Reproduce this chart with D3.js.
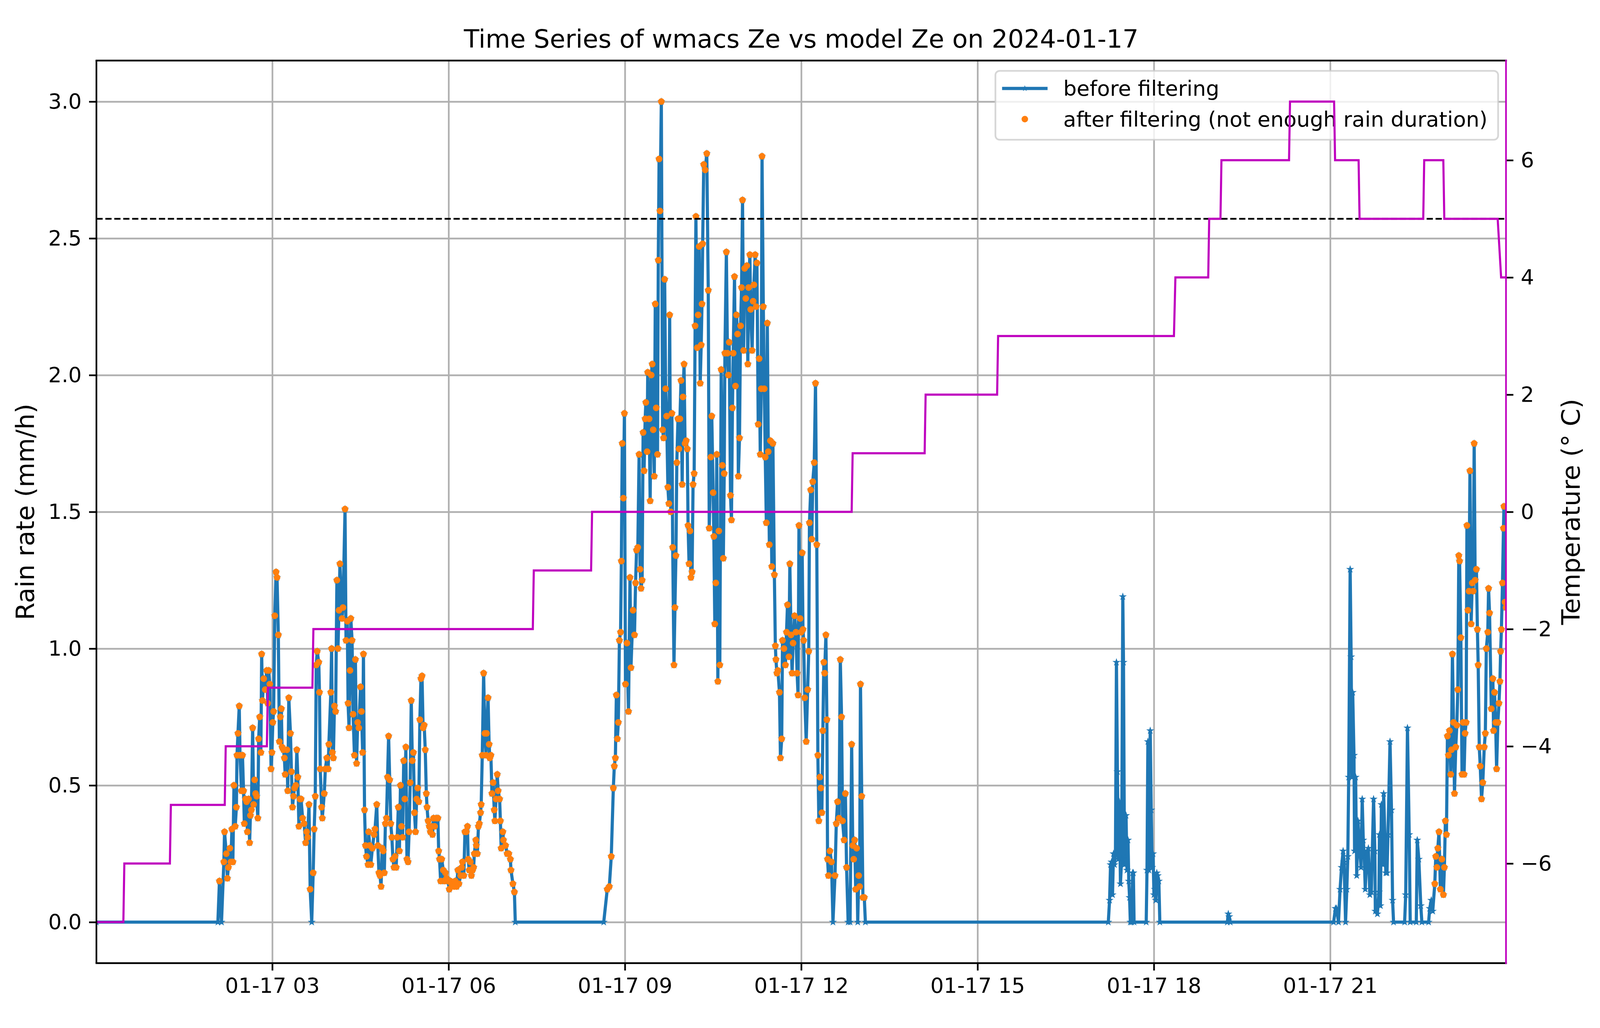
<!DOCTYPE html>
<html><head><meta charset="utf-8">
<script src="https://cdn.jsdelivr.net/npm/d3@7"></script>
<style>html,body{margin:0;padding:0;background:#fff;overflow:hidden;width:100%;height:100%;} svg{display:block;} text{font-family:"DejaVu Sans",sans-serif;}</style>
</head><body><svg id="chart"></svg>
<script>
// ---------------- data ----------------
const titleText = "Time Series of wmacs Ze vs model Ze on 2024-01-17";
const yLabelLeft = "Rain rate (mm/h)";
const yLabelRight = "Temperature (° C)";
const legendLabels = ["before filtering", "after filtering (not enough rain duration)"];
const xDomainMinutes = [0.5, 1439.5];
const xTickMinutes = [180, 360, 540, 720, 900, 1080, 1260];
const xTickLabels = ["01-17 03", "01-17 06", "01-17 09", "01-17 12", "01-17 15", "01-17 18", "01-17 21"];
const rainTicks = [0, 0.5, 1.0, 1.5, 2.0, 2.5, 3.0];
const tempTicks = [-6, -4, -2, 0, 2, 4, 6];
const tempThreshold = 5;

// rain rate before filtering: [minute of day, mm/h]
const rainBefore = [
[0.5,0],[124.5,0],[126.1,0.15],[128.2,0],[130.6,0.22],[131.3,0.33],[133.1,0.25],[134.2,0.16],[135.2,0.20],[136.7,0.27],[137.8,0.22],[138.8,0.34],[139.8,0.22],[140.9,0.50],[142.2,0.35],[143.4,0.42],[144.0,0.61],[145.0,0.69],[146.3,0.79],[147.1,0.61],[148.6,0.48],[149.6,0.61],[150.7,0.48],[151.5,0.36],[152.7,0.45],[153.8,0.44],[154.6,0.33],[155.8,0.45],[156.9,0.29],[157.7,0.39],[158.7,0.41],[160.0,0.71],[161.0,0.43],[162.0,0.52],[163.0,0.47],[164.1,0.46],[165.3,0.38],[166.1,0.67],[167.2,0.75],[168.4,0.62],[169.2,0.98],[170.0,0.81],[171.3,0.89],[172.8,0.85],[174.4,0.92],[175.4,0.80],[176.4,0.92],[177.5,0.87],[178.8,0.56],[179.7,0.62],[180.6,0.73],[181.4,0.77],[182.6,1.12],[183.9,1.28],[184.9,1.26],[186.2,1.05],[187.3,0.66],[188.3,0.75],[189.3,0.78],[190.0,0.64],[191.4,0.63],[192.4,0.60],[193.2,0.54],[195.0,0.63],[195.8,0.48],[196.9,0.82],[198.6,0.69],[199.6,0.55],[200.7,0.42],[201.7,0.46],[202.7,0.49],[204.1,0.50],[205.1,0.63],[206.1,0.53],[207.2,0.35],[208.2,0.45],[209.4,0.45],[211.0,0.38],[212.5,0.36],[214.1,0.29],[215.1,0.33],[216.1,0.31],[217.5,0.43],[218.7,0.12],[220.3,0],[221.8,0.18],[222.8,0.34],[223.9,0.46],[224.9,0.94],[225.9,0.99],[227.5,0.95],[228.2,0.84],[229.0,0.56],[230.4,0.42],[231.1,0.38],[233.1,0.47],[234.2,0.56],[235.7,0.60],[237.1,0.56],[237.8,0.65],[239.8,0.84],[240.6,1.00],[241.4,0.62],[242.4,0.60],[243.5,0.79],[244.7,0.77],[246.0,1.25],[247.1,1.00],[248.1,1.14],[249.1,1.31],[251.2,1.11],[252.2,1.15],[254.3,1.51],[255.3,1.03],[256.6,1.10],[257.4,0.80],[258.4,0.71],[259.4,0.92],[260.2,1.11],[261.5,1.03],[262.5,0.76],[263.9,0.61],[264.9,0.96],[266.1,0.58],[267.2,0.73],[268.4,0.71],[270.1,0.86],[271.1,0.77],[272.3,0.62],[273.1,0.98],[274.2,0.41],[275.2,0.28],[276.2,0.24],[277.8,0.21],[278.4,0.33],[279.5,0.28],[280.6,0.21],[282.2,0.27],[283.9,0.32],[284.9,0.34],[286.7,0.43],
[287.8,0.28],[288.9,0.18],[290.0,0.17],[291.1,0.13],[292.2,0.27],[293.3,0.26],[294.4,0.18],[295.5,0.36],[296.6,0.38],[297.7,0.53],[298.8,0.68],[299.9,0.52],[301.0,0.36],[302.1,0.31],[303.2,0.23],[304.3,0.20],[305.4,0.24],[306.5,0.20],[307.6,0.31],[308.7,0.42],[309.8,0.26],[310.9,0.50],[312.0,0.35],[313.1,0.31],[314.2,0.59],[315.3,0.45],[316.4,0.64],[317.5,0.23],[318.6,0.22],[319.7,0.33],[320.8,0.51],[321.9,0.81],[323.0,0.59],[324.1,0.62],[325.2,0.40],[326.3,0.33],[327.4,0.45],[328.5,0.49],[329.6,0.44],[330.7,0.74],[331.8,0.89],[332.9,0.90],[334.0,0.71],[335.1,0.72],[336.2,0.63],[337.3,0.47],[338.0,0.42],[339.1,0.37],[340.3,0.35],[341.4,0.33],[342.5,0.35],[343.6,0.32],[344.7,0.38],[345.8,0.35],[347.4,0.38],[349.1,0.38],[349.9,0.26],[350.8,0.23],[351.9,0.15],[353.0,0.23],[354.6,0.19],[355.7,0.15],[356.8,0.18],[357.9,0.16],[359.4,0.15],[360.7,0.12],[361.8,0.15],[363.1,0.14],[364.6,0.14],[365.7,0.13],[366.8,0.15],[368.2,0.13],[369.5,0.19],[370.6,0.14],[372.3,0.17],[373.4,0.20],[374.2,0.22],[375.6,0.17],[376.7,0.33],[378.2,0.33],[379.3,0.35],[380.0,0.23],[381.1,0.19],[382.2,0.22],[383.3,0.17],[384.5,0.19],[385.6,0.20],[386.3,0.25],[387.8,0.30],[388.3,0.28],[389.4,0.25],[390.5,0.35],[391.4,0.36],[392.7,0.40],[393.3,0.43],[394.4,0.61],[395.8,0.91],[397.0,0.69],[398.3,0.61],[398.8,0.69],[400.3,0.82],[401.4,0.65],[402.1,0.60],[403.2,0.61],[404.3,0.47],[405.5,0.51],[406.6,0.41],[407.3,0.37],[408.4,0.45],[409.7,0.54],[410.6,0.48],[412.1,0.45],[412.9,0.37],[413.7,0.27],[415.4,0.33],[416.0,0.30],[418.2,0.28],[419.8,0.25],[421.5,0.25],[423.1,0.23],[423.7,0.19],[425.7,0.14],[427.2,0.11],[428.1,0],
[518.4,0],[522.0,0.12],[524.1,0.13],[526.1,0.24],[528.2,0.49],[529.2,0.57],[530.3,0.60],[531.3,0.83],[532.3,0.67],[533.3,0.73],[534.4,1.03],[535.6,1.06],[536.4,1.32],[537.3,1.75],[538.5,1.55],[539.5,1.86],[540.6,0.87],[542.1,1.02],[543.7,0.77],[545.2,1.26],[546.2,0.93],[548.3,1.14],[549.8,1.05],[550.9,1.24],[551.9,1.36],[553.2,1.37],[554.5,1.71],[555.5,1.29],[556.5,1.22],[557.6,1.25],[558.6,1.79],[559.6,1.65],[560.7,1.84],[561.4,1.90],[562.7,1.72],[563.3,2.01],[564.8,1.84],[565.8,1.54],[566.9,2.00],[567.9,2.04],[568.9,1.80],[570.0,1.63],[571.0,2.26],[572.0,1.88],[573.3,1.71],[574.1,2.42],[574.9,2.79],[575.8,2.60],[577.2,3.00],[578.5,1.80],[579.5,1.77],[580.6,2.35],[581.6,1.95],[582.6,1.85],[583.9,1.59],[584.9,1.53],[585.7,2.22],[586.8,1.50],[588.0,1.86],[588.8,1.37],[590.1,0.94],[591.1,1.15],[592.1,1.34],[593.0,1.68],[594.2,1.84],[595.2,1.73],[596.2,1.84],[597.3,1.98],[598.5,1.60],[599.3,1.92],[600.4,2.04],[601.4,1.75],[602.6,1.76],[603.7,1.73],[604.5,1.45],[605.5,1.31],[606.5,1.43],[607.4,1.26],[608.6,1.28],[609.6,1.60],[610.7,1.64],[611.7,2.18],[612.5,2.58],[613.8,2.10],[614.8,2.22],[615.8,2.47],[616.9,1.97],[617.9,2.11],[618.7,2.26],[619.4,2.48],[620.5,2.77],[622.0,2.75],[623.6,2.81],[625.1,2.31],[626.1,1.44],[627.7,1.70],[628.7,1.85],[630.1,1.57],[630.8,1.41],[631.8,1.09],[632.8,1.24],[633.8,1.71],[634.9,0.88],[635.9,1.43],[636.9,0.94],[638.3,2.02],[639.5,1.67],[640.5,1.33],[641.4,1.64],[642.1,2.08],[643.6,2.45],[644.7,2.08],[645.7,2.00],[646.5,2.12],[647.8,1.56],[648.8,1.47],[649.8,1.88],[650.6,2.08],[651.9,2.36],[652.9,1.96],[653.9,2.22],[655.0,2.15],[655.8,1.63],[657.0,1.77],[658.1,2.18],[659.1,2.32],[660.1,2.64],[661.2,2.09],[662.2,2.39],[663.4,2.28],[664.5,2.40],[665.5,2.04],[666.3,2.32],[667.6,2.44],[668.4,2.24],[669.9,2.09],[670.9,2.27],[671.7,2.33],[673.0,2.44],[674.0,2.25],[674.8,2.41],[676.1,1.82],[677.1,2.06],[678.2,1.71],[679.2,1.95],[680.0,2.80],[681.3,2.25],[682.3,1.95],[683.3,1.70],[684.4,1.46],[685.4,2.19],[686.4,1.72],[687.5,1.38],[688.5,1.76],[690.0,1.30],[691.1,1.75],[692.6,1.27],[693.6,1.01],[694.2,0.96],[695.2,0.91],[696.2,0.92],[697.8,0.84],[698.8,0.60],[700.1,0.67],[700.9,1.03],[702.4,1.00],[703.9,0.94],[705.0,1.06],[706.0,1.16],[707.4,0.97],[708.4,1.31],[709.6,1.05],[710.7,0.91],[711.7,1.02],[713.2,1.12],[714.6,1.06],[715.8,0.91],[716.8,0.83],[717.7,1.45],[718.9,1.11],[719.9,1.06],[721.0,1.35],[721.8,1.07],[722.5,1.03],[723.6,0.82],[725.1,0.66],[726.6,0.85],[727.7,0.99],[728.4,1.46],[729.7,1.58],[730.8,1.40],[731.8,1.61],[733.3,1.68],[734.6,1.97],[735.9,1.38],[737.0,0.61],[738.0,0.37],[739.0,0.53],[740.0,0.49],[741.1,0.40],[742.1,0.70],[743.1,0.95],[743.9,0.91],[745.2,1.05],[746.2,0.74],[746.9,0.23],[747.8,0.17],[749.3,0.26],[750.9,0.22],[752.4,0],[754.5,0.17],[755.8,0.36],[757.1,0.44],[758.6,0.38],[759.9,0.96],[761.2,0.75],[762.2,0.37],[763.8,0.30],[765.1,0.47],[766.3,0.20],[767.9,0],[769.9,0],[771.5,0.65],[772.6,0.28],[773.6,0.23],[774.6,0.30],[775.6,0.12],[776.6,0.27],[777.7,0],[778.7,0.17],[779.6,0.13],[780.5,0.87],[781.8,0.46],[783.0,0.09],[784.4,0.09],[785.5,0],
[1033.5,0],[1034.8,0.08],[1035.8,0.21],[1036.8,0.22],[1037.8,0.10],[1038.8,0.25],[1039.8,0.21],[1040.8,0.25],[1041.8,0.95],[1042.8,0.55],[1043.8,0.23],[1044.8,0.44],[1045.9,0.14],[1047.1,0.23],[1048.3,1.19],[1049.0,0.95],[1050.0,0.21],[1050.8,0.24],[1051.6,0.39],[1052.6,0.19],[1053.6,0.30],[1054.4,0.15],[1055.2,0.09],[1056.0,0],[1057.5,0],[1058.3,0.18],[1059.1,0.18],[1059.8,0],
[1072.2,0],[1073.0,0.19],[1073.9,0.66],[1075.0,0.19],[1076.3,0.70],[1077.3,0.41],[1078.3,0.20],[1079.2,0.25],[1080.1,0.10],[1081.0,0.12],[1082.0,0.08],[1083.0,0.18],[1084.0,0.17],[1085.1,0.15],[1086.1,0],
[1155,0],[1156,0.03],[1157,0.02],[1158,0],
[1263.5,0],[1265.4,0.05],[1266.5,0.05],[1268.5,0],[1270.1,0.12],[1271.6,0.20],[1273.2,0.26],[1274.2,0.22],[1275.7,0],[1277.0,0.12],[1278.0,0.24],[1278.9,0.53],[1280.4,1.29],[1281.4,0.97],[1282.2,0.53],[1283.0,0.84],[1284.3,0.61],[1284.9,0.26],[1286.0,0.53],[1287.1,0.17],[1288.4,0.37],[1289.8,0.28],[1291.5,0.20],[1292.7,0.45],[1293.8,0.30],[1294.8,0.24],[1295.8,0.12],[1297.7,0.26],[1299.0,0.27],[1300.5,0.10],[1302.0,0.11],[1304.3,0.45],[1305.6,0.26],[1306.1,0.04],[1308.2,0.03],[1309.8,0.11],[1310.3,0.32],[1311.3,0.06],[1312.3,0.43],[1313.9,0.21],[1314.6,0.47],[1315.8,0.32],[1316.8,0.18],[1318.0,0.18],[1319.0,0.32],[1321.1,0.66],[1322.6,0.41],[1323.7,0.08],[1324.7,0],
[1336.0,0],[1337.1,0.10],[1338.9,0.71],[1340.7,0.32],[1341.7,0],[1347.9,0],[1348.9,0.30],[1350.5,0.23],[1352.5,0.06],[1353.6,0],
[1360.5,0],[1361.6,0.05],[1363.2,0.08],[1364.7,0.04],[1366.8,0.14],[1367.8,0.24],[1368.9,0.20],[1369.9,0.27],[1371.1,0.33],[1372.5,0.12],[1374.0,0.23],[1375.6,0.10],[1376.6,0.20],[1377.6,0.37],[1378.7,0.32],[1379.7,0.68],[1380.7,0.61],[1381.8,0.70],[1383.1,0.54],[1383.8,0.63],[1384.8,0.98],[1385.9,0.73],[1386.9,0.47],[1388.2,0.64],[1389.3,0.72],[1390.3,0.85],[1391.3,1.34],[1392.1,1.32],[1393.4,1.04],[1394.6,0.54],[1395.7,0.73],[1396.7,0.54],[1397.7,0.69],[1398.8,0.73],[1399.6,1.45],[1400.6,1.14],[1401.7,1.21],[1402.7,1.65],[1403.9,1.09],[1405.0,1.24],[1406.0,1.21],[1407.0,1.75],[1408.0,1.25],[1409.3,1.29],[1410.3,1.07],[1411.1,0.94],[1412.2,0.64],[1413.2,0.57],[1414.5,0.45],[1415.8,0.51],[1417.3,0.64],[1418.4,0.69],[1419.4,1.00],[1420.9,1.06],[1421.7,1.22],[1422.7,1.13],[1424.5,0.78],[1426.1,0.89],[1426.8,0.70],[1427.8,0.84],[1428.9,0.73],[1429.9,0.56],[1431.2,0.73],[1432.3,0.80],[1433.3,0.88],[1434.0,0.99],[1434.8,1.07],[1435.9,1.24],[1436.9,1.44],[1437.4,1.52],[1438.5,1.17],[1439.5,1.15]
];

// time windows (minutes) whose rain survives the duration filter
const filteredWindows = [[120, 430], [515, 790], [1366, 1440]];

// temperature (°C): [minute of day, value]
const temperature = [
[0.5,-7],[28,-7],[29,-6],[75.5,-6],[76.5,-5],[131.5,-5],[132.5,-4],[174.5,-4],[175.5,-3],[221,-3],[222,-2],
[446,-2],[447,-1],[505.5,-1],[506.5,0],[771.5,0],[772.5,1],[846,1],[847,2],[920,2],[921,3],
[1100.5,3],[1102,4],[1135.5,4],[1136.5,5],[1148,5],[1149,6],[1218,6],[1219,7],[1264,7],[1265,6],
[1289,6],[1290,5],[1355,5],[1356,6],[1375.5,6],[1376.5,5],[1431,5],[1434.5,4],[1439.5,4]
];

// ---------------- layout (fit to the actual viewport) ----------------
const VW = window.innerWidth || document.documentElement.clientWidth || 5277;
const VH = window.innerHeight || document.documentElement.clientHeight || 2631;
const fx = VW / 5277, fy = VH / 2631;       // relative placement
const s = Math.min(fx, fy);                 // uniform size factor (fonts, strokes, markers)
const L = 318 * fx, R = 4967 * fx, T = 155 * fy, B = 2465 * fy;
const PT = (500 / 72) * s;                  // one typographic point
const tickFont = 10 * PT, labelFont = 12 * PT;

const svg = d3.select("#chart").attr("width", VW).attr("height", VH);
svg.append("rect").attr("width", VW).attr("height", VH).attr("fill", "#fff");

const x = d3.scaleLinear().domain(xDomainMinutes).range([L, R]);
const yL = d3.scaleLinear().domain([-0.15, 3.15]).range([B, T]);
const yR = d3.scaleLinear().domain([-7.7, 7.7]).range([B, T]);

const gridColor = "#b0b0b0";
const blue = "#1f77b4", orange = "#ff7f0e", magenta = "#bf00bf";

// grid
const gx = svg.append("g").attr("transform", `translate(0,${B})`)
  .call(d3.axisBottom(x).tickValues(xTickMinutes).tickSize(-(B - T)).tickFormat(""));
gx.select(".domain").remove();
gx.selectAll("line").attr("stroke", gridColor).attr("stroke-width", 0.8 * PT);
const gy = svg.append("g").attr("transform", `translate(${L},0)`)
  .call(d3.axisLeft(yL).tickValues(rainTicks).tickSize(-(R - L)).tickFormat(""));
gy.select(".domain").remove();
gy.selectAll("line").attr("stroke", gridColor).attr("stroke-width", 0.8 * PT);

svg.append("defs").append("clipPath").attr("id", "plotclip")
  .append("rect").attr("x", L).attr("y", T).attr("width", R - L).attr("height", B - T);
const plot = svg.append("g").attr("clip-path", "url(#plotclip)");

// before filtering: line + star markers
plot.append("path").datum(rainBefore)
  .attr("d", d3.line().x(d => x(d[0])).y(d => yL(d[1])))
  .attr("fill", "none").attr("stroke", blue).attr("stroke-width", 1.5 * PT).attr("stroke-linejoin", "round");
const star = d3.symbol().type(d3.symbolStar).size(130 * s * s);
plot.append("g").selectAll("path").data(rainBefore).join("path")
  .attr("transform", d => `translate(${x(d[0])},${yL(d[1])})`)
  .attr("d", star).attr("fill", blue).attr("stroke", blue).attr("stroke-width", 2 * s);

// after filtering points
const inWindow = t => filteredWindows.some(w => t >= w[0] && t <= w[1]);
const afterFiltering = rainBefore.filter(d => d[1] > 0 && inWindow(d[0]));
plot.append("g").selectAll("circle").data(afterFiltering).join("circle")
  .attr("cx", d => x(d[0])).attr("cy", d => yL(d[1])).attr("r", 10.8 * s).attr("fill", orange);

// legend (upper right, offsets in points from the axes corner)
const lgW = 1658 * s, lgH = 227 * s;
const lgX = R - (4967 - 4941) * s - lgW, lgY = T + (189 - 155) * s;
const lg = svg.append("g").attr("transform", `translate(${lgX},${lgY})`);
lg.append("rect").attr("width", lgW).attr("height", lgH).attr("rx", 14 * s)
  .attr("fill", "#fff").attr("fill-opacity", 0.8).attr("stroke", "#cccccc").attr("stroke-opacity", 0.8)
  .attr("stroke-width", 0.8 * PT);
lg.append("line").attr("x1", 22 * s).attr("x2", 172 * s).attr("y1", 58 * s).attr("y2", 58 * s)
  .attr("stroke", blue).attr("stroke-width", 1.5 * PT);
lg.append("path").attr("transform", `translate(${97 * s},${58 * s})`).attr("d", star).attr("fill", blue);
lg.append("circle").attr("cx", 97 * s).attr("cy", 159 * s).attr("r", 10.8 * s).attr("fill", orange);
lg.append("text").attr("x", 224 * s).attr("y", 82 * s).attr("font-size", tickFont).text(legendLabels[0]);
lg.append("text").attr("x", 224 * s).attr("y", 184 * s).attr("font-size", tickFont).text(legendLabels[1]);

// temperature (twin axis)
const plot2 = svg.append("g").attr("clip-path", "url(#plotclip)");
plot2.append("line").attr("x1", L).attr("x2", R).attr("y1", yR(tempThreshold)).attr("y2", yR(tempThreshold))
  .attr("stroke", "#000").attr("stroke-width", 0.8 * PT).attr("stroke-dasharray", `${3.7 * 0.8 * PT},${1.6 * 0.8 * PT}`);
plot2.append("path").datum(temperature)
  .attr("d", d3.line().x(d => x(d[0])).y(d => yR(d[1])))
  .attr("fill", "none").attr("stroke", magenta).attr("stroke-width", 1.0 * PT);

// axes
function styleAxis(g) {
  g.select(".domain").remove();
  g.selectAll(".tick line").attr("stroke", "#000").attr("stroke-width", 0.8 * PT);
  g.selectAll(".tick text").attr("font-size", tickFont).attr("fill", "#000")
    .style("font-family", '"DejaVu Sans", sans-serif');
}
const ax = svg.append("g").attr("transform", `translate(0,${B})`)
  .call(d3.axisBottom(x).tickValues(xTickMinutes).tickFormat((d, i) => xTickLabels[i]).tickSize(3.5 * PT).tickPadding(3.5 * PT));
styleAxis(ax);
const ayl = svg.append("g").attr("transform", `translate(${L},0)`)
  .call(d3.axisLeft(yL).tickValues(rainTicks).tickFormat(d3.format(".1f")).tickSize(3.5 * PT).tickPadding(3.5 * PT));
styleAxis(ayl);
const ayr = svg.append("g").attr("transform", `translate(${R},0)`)
  .call(d3.axisRight(yR).tickValues(tempTicks).tickFormat(d => d < 0 ? "\u2212" + Math.abs(d) : String(d)).tickSize(3.5 * PT).tickPadding(3.5 * PT));
styleAxis(ayr);

// spines
const sw = 0.8 * PT;
svg.append("line").attr("x1", L).attr("x2", L).attr("y1", T).attr("y2", B).attr("stroke", "#000").attr("stroke-width", sw);
svg.append("line").attr("x1", L - sw / 2).attr("x2", R + sw / 2).attr("y1", T).attr("y2", T).attr("stroke", "#000").attr("stroke-width", sw);
svg.append("line").attr("x1", L - sw / 2).attr("x2", R + sw / 2).attr("y1", B).attr("y2", B).attr("stroke", "#000").attr("stroke-width", sw);
svg.append("line").attr("x1", R).attr("x2", R).attr("y1", T - sw / 2).attr("y2", B + sw / 2).attr("stroke", magenta).attr("stroke-width", sw);

// labels
svg.append("text").attr("x", (L + R) / 2).attr("y", T - 42 * s).attr("text-anchor", "middle")
  .attr("font-size", labelFont).text(titleText);
svg.append("text").attr("transform", `translate(${L - (318 - 112) * s},${(T + B) / 2}) rotate(-90)`).attr("text-anchor", "middle")
  .attr("font-size", labelFont).text(yLabelLeft);
svg.append("text").attr("transform", `translate(${R + (5210 - 4967) * s},${(T + B) / 2}) rotate(-90)`).attr("text-anchor", "middle")
  .attr("font-size", labelFont).text(yLabelRight);
</script>
</body></html>
